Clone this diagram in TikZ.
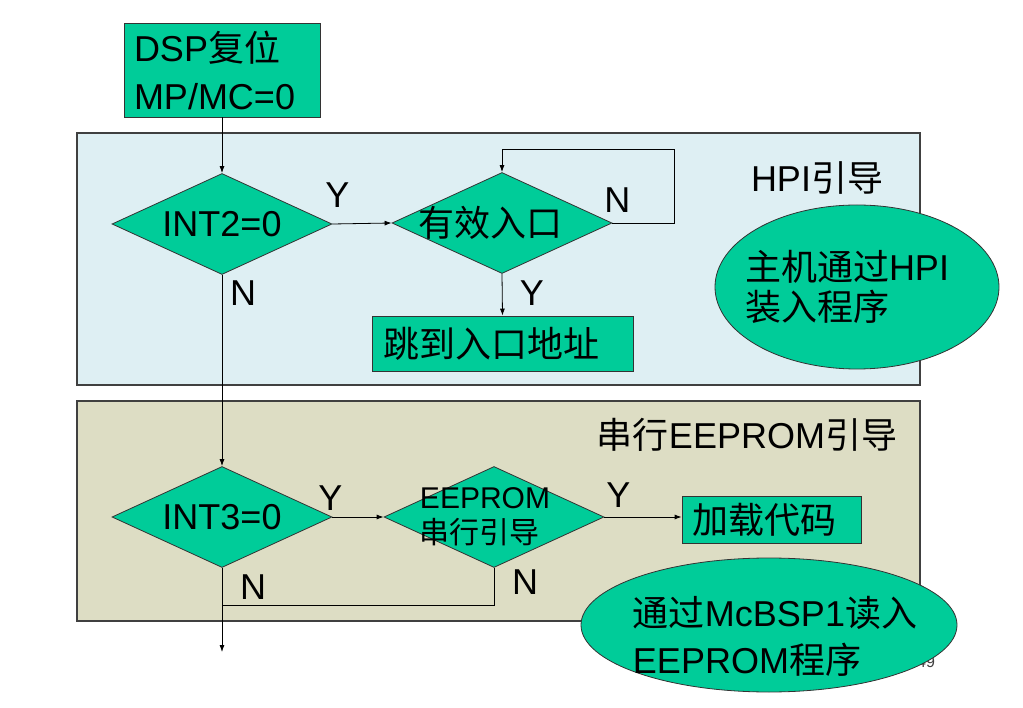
\documentclass[tikz,border=0pt]{standalone}
\usepackage{fontspec}
\setmainfont{Liberation Sans}
\newfontfamily\cjk{Noto Sans CJK SC}
\newcommand{\zh}[1]{{\cjk #1}}
\usetikzlibrary{arrows.meta,positioning,shapes.geometric}
\definecolor{flowgreen}{RGB}{0,204,153}
\definecolor{hpiblue}{RGB}{222,239,243}
\definecolor{eepbeige}{RGB}{221,221,196}

\begin{document}
\begin{tikzpicture}[
    x=1pt, y=-1pt,
    >={Latex[length=7pt,width=5pt]},
    line width=0.8pt,
    box/.style={rectangle,draw=black!80,fill=flowgreen,align=left,font=\fontsize{36}{48}\selectfont,inner xsep=10pt,inner ysep=0pt},
    decision/.style={diamond,draw=black!80,fill=flowgreen,minimum width=220pt,minimum height=101pt,inner sep=0pt},
    oval/.style={ellipse,draw=black!80,fill=flowgreen,inner sep=0pt},
    txt/.style={font=\fontsize{36}{40}\selectfont,inner sep=0pt,align=left},
    yn/.style={font=\fontsize{36}{40}\selectfont,inner sep=0pt},
    panel/.style={draw=black!75,line width=1.2pt}]
    \useasboundingbox (0,0) rectangle (1023,708);

    % two background panels
    \draw[panel,fill=hpiblue] (77,133) rectangle (920,385);
    \draw[panel,fill=eepbeige] (77,401) rectangle (920,621);
    \node[txt] (hpilabel) at (817,178) {HPI\zh{引导}};
    \node[txt] (eeplabel) at (747,435) {\zh{串行}EEPROM\zh{引导}};
    \node[font=\fontsize{16}{18}\selectfont,text=black!75] (pageno) at (926,662) {49};

    % flow
    \node[box,minimum width=196pt,minimum height=94pt,text width=176pt] (dsp) at (222,70) {DSP\zh{复位}\\MP/MC=0};
    \node[decision] (int2) at (222,224) {};
    \node[txt] (int2txt) at (int2.center) {INT2=0};
    \node[decision] (valid) at (502,223) {};
    \node[txt] (validtxt) at ([xshift=-12pt]valid.center) {\zh{有效入口}};
    \node[box,minimum width=261pt,minimum height=55pt,text width=239pt,inner xsep=11pt] (jump) at (502.5,343.5) {\zh{跳到入口地址}};
    \node[decision] (int3) at (222,517) {};
    \node[txt] (int3txt) at (int3.center) {INT3=0};
    \node[decision] (eep) at (494,517) {};
    \node[txt,font=\fontsize{30}{35}\selectfont] (eeptxt) at ([xshift=-9pt]eep.center) {EEPROM\\\zh{串行引导}};
    \node[box,minimum width=179pt,minimum height=47pt,text width=159pt] (load) at (771.5,519.5) {\zh{加载代码}};

    % notes
    \node[oval,minimum width=284pt,minimum height=164pt] (hpinote) at (857,287) {};
    \node[txt] (hpitext) at ([xshift=-10pt]hpinote.center) {\zh{主机通过}HPI\\\zh{装入程序}};
    \node[oval,minimum width=376pt,minimum height=134pt] (mcbspnote) at (769,625) {};
    \node[txt,font=\fontsize{36}{47}\selectfont] (mcbsptext) at ([xshift=6pt,yshift=-11.5pt]mcbspnote.center) {\zh{通过}McBSP1\zh{读入}\\EEPROM\zh{程序}};

    \coordinate (loopc) at (674,149);
    \coordinate (merge) at (222,605);
    \coordinate (exit) at (222,652);

    \draw[->] (dsp) -- (int2);
    \draw[->] (int2.east) -- (valid.west);
    \draw[->] (valid.east) -| (loopc) -| (valid.north);
    \draw[->] (valid.south) -- (jump.north);
    \draw[->] (int2.south) -- (int3.north);
    \draw[->] (int3.east) -- (eep.west);
    \draw[->] (eep.east) -- (eep.east -| load.west);
    \draw (eep.south) |- (merge);
    \draw[->] (int3.south) -- (exit);

    % yes / no marks
    \node[yn] (y1) at ([xshift=5pt,yshift=29pt]int2.east) {Y};
    \node[yn] (n1) at ([xshift=21pt,yshift=-18pt]int2.south) {N};
    \node[yn] (n2) at ([xshift=5pt,yshift=23pt]valid.east) {N};
    \node[yn] (y2) at ([xshift=30pt,yshift=-19pt]valid.south) {Y};
    \node[yn] (y3) at ([xshift=-2pt,yshift=19pt]int3.east) {Y};
    \node[yn] (n3) at ([xshift=31pt,yshift=-19pt]int3.south) {N};
    \node[yn] (y4) at ([xshift=14pt,yshift=22pt]eep.east) {Y};
    \node[yn] (n4) at ([xshift=31pt,yshift=-14pt]eep.south) {N};
\end{tikzpicture}
\end{document}
